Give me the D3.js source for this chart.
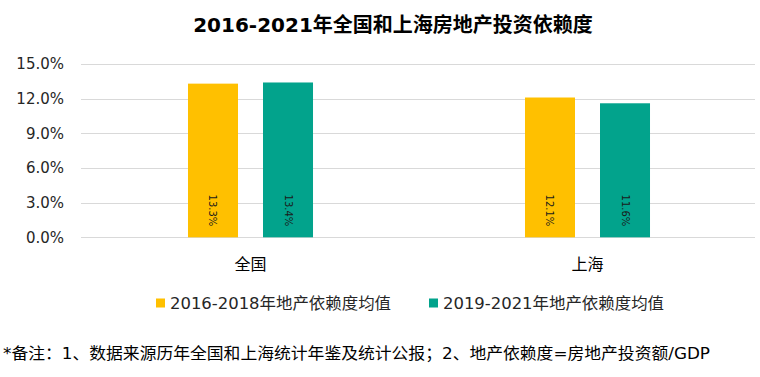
<!DOCTYPE html>
<html><head><meta charset="utf-8">
<script src="https://cdn.jsdelivr.net/npm/d3@7"></script>
<style>
body{margin:0;background:#fff;}
svg{display:block;font-family:"DejaVu Sans","Noto Sans CJK SC",sans-serif;}
</style></head>
<body><svg id="c" width="760" height="377"></svg>
<script>
const title = "2016-2021年全国和上海房地产投资依赖度";
const categories = ["全国", "上海"];
const seriesNames = ["2016-2018年地产依赖度均值", "2019-2021年地产依赖度均值"];
const series1 = [13.3, 12.1];
const series2 = [13.4, 11.6];
const yTicks = [0, 3, 6, 9, 12, 15];
const footnote = "*备注：1、数据来源历年全国和上海统计年鉴及统计公报；2、地产依赖度=房地产投资额/GDP";
const colors = ["#FFC000", "#02A38C"];

const svg = d3.select("#c");
const plotLeft = 82, plotRight = 756, plotTop = 64, plotBottom = 237.3;

const y = d3.scaleLinear().domain([0, 15]).range([plotBottom, plotTop]);
const x0 = d3.scaleBand().domain(categories).range([plotLeft, plotRight]).paddingInner(0.629).paddingOuter(0.3145);
const x1 = d3.scaleBand().domain([0, 1]).range([0, x0.bandwidth()]).paddingInner(1/3);

// title
svg.append("text").attr("x", 393).attr("y", 32).attr("text-anchor", "middle")
  .attr("font-size", 20).attr("font-weight", "bold").attr("fill", "#000").text(title);

// gridlines
svg.append("g").selectAll("line").data(yTicks).join("line")
  .attr("x1", plotLeft - 1).attr("x2", plotRight - 1)
  .attr("y1", d => Math.round(y(d)) + 0.5).attr("y2", d => Math.round(y(d)) + 0.5)
  .attr("stroke", "#d9d9d9").attr("stroke-width", 1);

// y axis labels
const yAxis = d3.axisLeft(y).tickValues(yTicks).tickSize(0).tickPadding(0)
  .tickFormat(d => d.toFixed(1) + "%");
const gy = svg.append("g").attr("transform", "translate(64,0)").call(yAxis);
gy.select(".domain").remove();
gy.selectAll("text").attr("font-size", 15).attr("fill", "#262626")
  .attr("font-family", "DejaVu Sans, Noto Sans CJK SC, sans-serif");

// bars
const data = categories.map((c, i) => ({cat: c, vals: [series1[i], series2[i]]}));
const groups = svg.append("g").selectAll("g").data(data).join("g")
  .attr("transform", d => `translate(${x0(d.cat)},0)`);
groups.selectAll("rect").data(d => d.vals.map((v, j) => ({v, j}))).join("rect")
  .attr("x", d => x1(d.j)).attr("width", x1.bandwidth())
  .attr("y", d => y(d.v)).attr("height", d => y(0) - y(d.v))
  .attr("fill", d => colors[d.j]);
groups.selectAll("text.val").data(d => d.vals.map((v, j) => ({v, j}))).join("text")
  .attr("class", "val")
  .attr("transform", d => `translate(${x1(d.j) + x1.bandwidth() / 2},${y(0) - 11}) rotate(90)`)
  .attr("text-anchor", "end").attr("dominant-baseline", "central")
  .attr("font-size", 10).attr("fill", "#1a1a1a")
  .text(d => d.v.toFixed(1) + "%");

// x axis labels
const xAxis = d3.axisBottom(x0).tickSize(0).tickPadding(0);
const gx = svg.append("g").attr("transform", "translate(0,264)").call(xAxis);
gx.select(".domain").remove();
gx.selectAll("text").attr("font-size", 16).attr("fill", "#000").attr("dy", "0.35em")
  .attr("font-family", "Noto Sans CJK SC, sans-serif");

// legend
const legX = [156, 429];
const leg = svg.append("g").selectAll("g").data(seriesNames).join("g")
  .attr("transform", (d, i) => `translate(${legX[i]},0)`);
leg.append("rect").attr("x", 0).attr("y", 298.5).attr("width", 9).attr("height", 9)
  .attr("fill", (d, i) => colors[i]);
leg.append("text").attr("x", 14).attr("y", 303).attr("dominant-baseline", "central")
  .attr("font-size", 16).attr("fill", "#262626")
  .attr("textLength", 221).attr("lengthAdjust", "spacingAndGlyphs").text(d => d);

// footnote
svg.append("text").attr("x", 3).attr("y", 353).attr("dominant-baseline", "central")
  .attr("font-size", 16).attr("fill", "#000")
  .attr("textLength", 707).attr("lengthAdjust", "spacingAndGlyphs").text(footnote);
</script></body></html>
